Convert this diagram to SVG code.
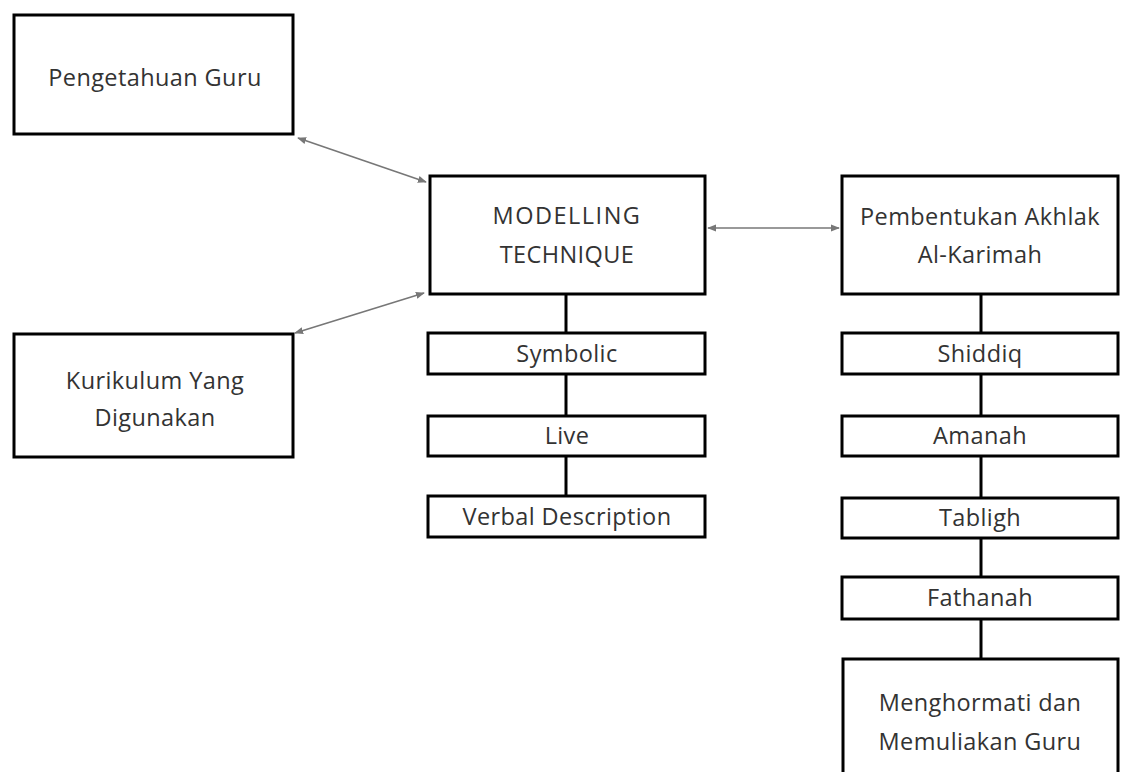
<svg xmlns="http://www.w3.org/2000/svg" width="1123" height="772" viewBox="0 0 1123 772">
<style>
.box{fill:#fff;stroke:#000;stroke-width:3}
.t{font-family:"Open Sans","Liberation Sans",sans-serif;font-size:23.5px;letter-spacing:0.4px;fill:#333;text-anchor:middle;dominant-baseline:central}
.ln{stroke:#000;stroke-width:3;fill:none}
.ar{stroke:#777;stroke-width:1.6;fill:none;marker-start:url(#ah);marker-end:url(#ah)}
</style>
<defs>
<marker id="ah" viewBox="0 0 10 10" refX="9" refY="5" markerWidth="9" markerHeight="9" markerUnits="userSpaceOnUse" orient="auto-start-reverse">
<path d="M0,1 L10,5 L0,9 z" fill="#777"/>
</marker>
</defs>
<rect width="1123" height="772" fill="#fff"/>
<g id="connectors">
<line class="ar" x1="298" y1="138" x2="426" y2="182"/>
<line class="ar" x1="295" y1="333" x2="424" y2="293"/>
<line class="ar" x1="708" y1="228" x2="839" y2="228"/>
<line class="ln" x1="566" y1="294" x2="566" y2="333"/>
<line class="ln" x1="566" y1="374" x2="566" y2="416"/>
<line class="ln" x1="566" y1="456" x2="566" y2="496"/>
<line class="ln" x1="981" y1="294" x2="981" y2="333"/>
<line class="ln" x1="981" y1="374" x2="981" y2="416"/>
<line class="ln" x1="981" y1="456" x2="981" y2="498"/>
<line class="ln" x1="981" y1="538" x2="981" y2="577"/>
<line class="ln" x1="981" y1="619" x2="981" y2="659"/>
</g>
<g id="pengetahuan"><rect class="box" x="14" y="15" width="279" height="119"/><text class="t" x="155" y="77">Pengetahuan Guru</text></g>
<g id="kurikulum"><rect class="box" x="14" y="334" width="279" height="123"/><text class="t" x="155" y="380">Kurikulum Yang</text><text class="t" x="155" y="417">Digunakan</text></g>
<g id="modelling"><rect class="box" x="430" y="176" width="275" height="118"/><text class="t" x="567" y="215" style="letter-spacing:1.5px">MODELLING</text><text class="t" x="567" y="254">TECHNIQUE</text></g>
<g id="symbolic"><rect class="box" x="428" y="333" width="277" height="41"/><text class="t" x="567" y="353">Symbolic</text></g>
<g id="live"><rect class="box" x="428" y="416" width="277" height="40"/><text class="t" x="567" y="435">Live</text></g>
<g id="verbal"><rect class="box" x="428" y="496" width="277" height="41"/><text class="t" x="567" y="516">Verbal Description</text></g>
<g id="pembentukan"><rect class="box" x="842" y="176" width="276" height="118"/><text class="t" x="980" y="216">Pembentukan Akhlak</text><text class="t" x="980" y="254">Al-Karimah</text></g>
<g id="shiddiq"><rect class="box" x="842" y="333" width="276" height="41"/><text class="t" x="980" y="353">Shiddiq</text></g>
<g id="amanah"><rect class="box" x="842" y="416" width="276" height="40"/><text class="t" x="980" y="435">Amanah</text></g>
<g id="tabligh"><rect class="box" x="842" y="498" width="276" height="40"/><text class="t" x="980" y="517">Tabligh</text></g>
<g id="fathanah"><rect class="box" x="842" y="577" width="276" height="42"/><text class="t" x="980" y="597">Fathanah</text></g>
<g id="menghormati"><rect class="box" x="843" y="659" width="275" height="130"/><text class="t" x="980" y="702">Menghormati dan</text><text class="t" x="980" y="741">Memuliakan Guru</text></g>
</svg>
